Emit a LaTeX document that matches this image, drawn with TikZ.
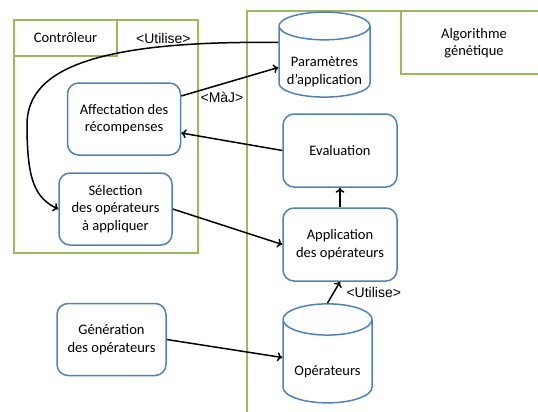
\documentclass[tikz,border=0pt]{standalone}
\usepackage{fontspec}
\setmainfont{Carlito}
\newfontfamily\arialfont{Liberation Sans}
\usepackage{tikz}
\usetikzlibrary{shapes.geometric, arrows.meta, calc}

\definecolor{bleu}{RGB}{79,129,189}
\definecolor{vert}{RGB}{155,187,89}

\tikzset{
	etape/.style = {draw = bleu, line width = 1.5pt, rounded corners = 11pt, minimum width = 113pt, minimum height = 72pt, align = center, font = \fontsize{14.5}{17.5}\selectfont},
	base/.style = {draw = bleu, line width = 1.5pt, cylinder, shape border rotate = 90, aspect = 0.32, text width = 80pt},
	contenu/.style = {label = {[align = center, font = \fontsize{14.5}{17.5}\selectfont, yshift = -7pt]center:#1}},
	lien/.style = {line width = 1.5pt, -{To[length = 5pt, width = 9pt]}},
	etiquette/.style = {font = \arialfont\fontsize{14}{17}\selectfont, inner sep = 2pt},
	cadre/.style = {draw = vert, line width = 2pt},
	titre/.style = {align = center, font = \fontsize{14.5}{17.5}\selectfont}
}

\begin{document}
\begin{tikzpicture}[x = 1pt, y = -1pt]
		\useasboundingbox (0,0) rectangle (538,412);
		
		\begin{scope}
			\clip (0,0) rectangle (538,412);
			\draw [cadre] (14,20) rectangle (198,253);
			\draw [cadre] (14,20) rectangle (117,56);
			\draw [cadre] (247,11) rectangle (560,430);
			\draw [cadre] (401,11) rectangle (550,74);
		\end{scope}
		
		\begin{scope}
			\node [titre] (controleur) at (65.5,38) {Contrôleur};
			\node [titre] (algorithme) at (474,43) {Algorithme\\génétique};
		\end{scope}
		
		\begin{scope}
			\node [base, minimum width = 91pt, minimum height = 85pt, contenu = {Paramètres\\d’application}] (parametres) at (324.5,64.5) {};
			\node [etape, minimum width = 114pt, minimum height = 73pt] (evaluation) at (340,150.5) {Evaluation};
			\node [etape, minimum width = 114pt, minimum height = 73pt] (application) at (340,244.5) {Application\\des opérateurs};
			\node [base, minimum width = 89pt, minimum height = 99pt, aspect = 0.36, contenu = {Opérateurs}] (operateurs) at (327.5,364.5) {};
		\end{scope}
		
		\begin{scope}
			\node [etape] (affectation) at (124,119) {Affectation des\\récompenses};
			\node [etape] (selection) at (115.5,209) {Sélection\\des opérateurs\\à appliquer};
			\node [etape, minimum width = 109pt] (generation) at (111.5,339.5) {Génération\\des opérateurs};
		\end{scope}
		
		\begin{scope}
			\draw [lien] ([yshift = 22pt]parametres.west) .. controls (80,40) and (27,75) .. (27,125) node [etiquette, pos = 0.23, above] {<Utilise>} .. controls (27,180) and (35,198) .. (selection.west);
			\draw [lien] ([yshift = 23pt]affectation.east) -- node [etiquette, pos = 0.42, below = 5pt] {<MàJ>} ([yshift = -3pt]parametres.west);
			\draw [lien] (evaluation.west) -- ([yshift = -14pt]affectation.east);
			\draw [lien] (selection.east) -- (application.west);
			\draw [lien] (application.north) -- (evaluation.south);
			\draw [lien] (operateurs.north) -- node [etiquette, right = 10pt] {<Utilise>} (application.south);
			\draw [lien] (generation.east) -- ([yshift = 7pt]operateurs.west);
		\end{scope}
	\end{tikzpicture}
\end{document}
